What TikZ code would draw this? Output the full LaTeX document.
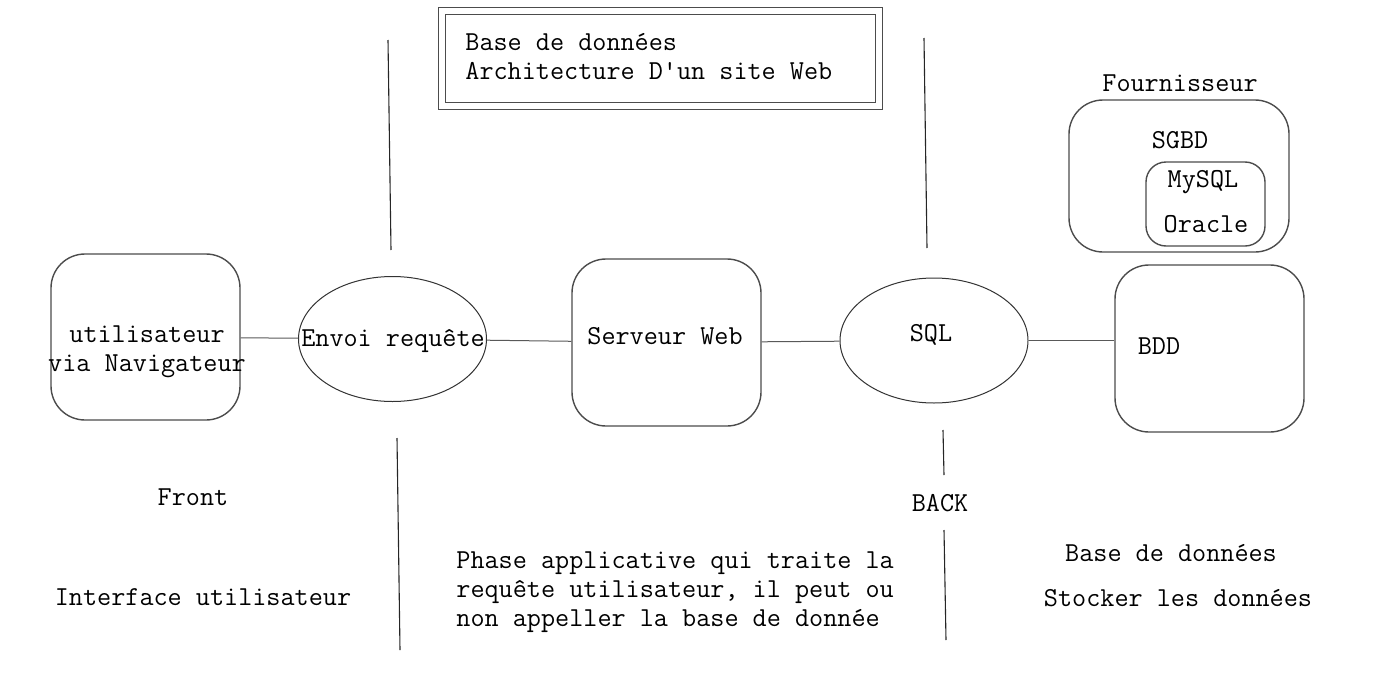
\documentclass[tikz,border=0pt]{standalone}
\usepackage{fontspec}
\usetikzlibrary{shapes.geometric}

\begin{document}
\begin{tikzpicture}[x=0.5pt,y=-0.5pt,
		box/.style={draw=black!70,line width=0.7pt,rounded corners=17pt,inner sep=0pt},
		bulle/.style={ellipse,draw=black!80,line width=0.5pt,inner sep=0pt,minimum width=94pt,minimum height=62.5pt},
		txt/.style={inner sep=0pt,align=center},
		lien/.style={draw=black!65,line width=0.5pt},
		sep/.style={draw=black!85,line width=0.55pt},
		every node/.style={font=\ttfamily\fontsize{13.7}{14.5}\selectfont}]
		\useasboundingbox (0,0) rectangle (1387,685);
		% titre
		\node [draw=black!70,line width=0.5pt,double,double distance=3pt,minimum width=218.5pt,minimum height=47.5pt] (titre) at (660,58.5) {};
		\node [txt,align=left,anchor=west] (titretxt) at (465,57) {Base de données\\Architecture D'un site Web};
		% les blocs
		\node [box,minimum width=94.5pt,minimum height=83pt] (user) at (145.5,337) {};
		\node [txt] (usertxt) at (147,351.5) {utilisateur\\via Navigateur};
		\node [bulle] (envoi) at (392.5,339) {};
		\node [txt] (envoitxt) at (393,341) {Envoi requête};
		\node [box,minimum width=94.5pt,minimum height=83.5pt] (serveur) at (666.5,342.5) {};
		\node [txt] (serveurtxt) at (665,336) {Serveur Web};
		\node [bulle] (sql) at (934,340.5) {};
		\node [txt] (sqltxt) at (931,335) {SQL};
		\node [box,minimum width=94.5pt,minimum height=83.5pt] (bdd) at (1209.5,348.5) {};
		\node [txt] (bddtxt) at (1159,346) {BDD};
		% fournisseur
		\node [txt] (fourn) at (1180,83) {Fournisseur};
		\node [box,minimum width=110pt,minimum height=76pt] (sgbdbox) at (1179,176) {};
		\node [txt] (sgbd) at (1180,140) {SGBD};
		\node [box,rounded corners=10pt,minimum width=59.5pt,minimum height=42pt] (moteurs) at (1205.5,204) {};
		\node [txt] (mysql) at (1203,182) {MySQL};
		\node [txt] (oracle) at (1206,224) {Oracle};
		% liens
		\draw [lien] (user) -- (envoi);
		\draw [lien] (envoi) -- (serveur);
		\draw [lien] (serveur) -- (sql);
		\draw [lien] (sql.east) -- (sql.east -| bdd.west);
		% separations
		\draw [sep] (388,40) -- (391,250);
		\draw [sep] (397,438) -- (400,650);
		\draw [sep] (924,38) -- (927,248);
		\draw [sep] (943,430) -- (944,475);
		\draw [sep] (944,530) -- (946,640);
		% legendes
		\node [txt] (front) at (193,497) {Front};
		\node [txt] (interface) at (203,597) {Interface utilisateur};
		\node [txt,align=left,anchor=west] (phase) at (456,592)
			{Phase applicative qui traite la\\requête utilisateur, il peut ou\\non appeller la base de donnée};
		\node [txt] (back) at (940,503) {BACK};
		\node [txt] (basedd) at (1171,553) {Base de données};
		\node [txt] (stocker) at (1178,598) {Stocker les données};
	\end{tikzpicture}
\end{document}
